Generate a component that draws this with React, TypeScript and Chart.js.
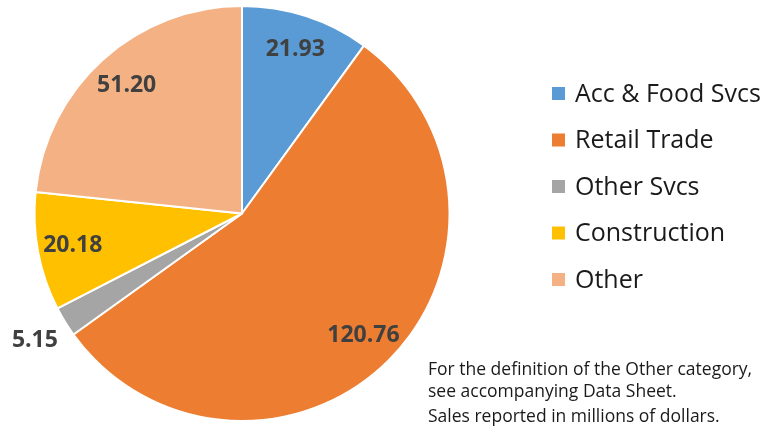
import React, { useEffect, useRef } from "react";
import { Chart, registerables } from "chart.js";

Chart.register(...registerables);

const categories = ["Acc & Food Svcs", "Retail Trade", "Other Svcs", "Construction", "Other"];
const salesValues = [21.93, 120.76, 5.15, 20.18, 51.2];
const sliceColors = ["#5B9BD5", "#ED7D31", "#A5A5A5", "#FFC000", "#F4B183"];
const noteLines = [
  "For the definition of the Other category,",
  "see accompanying Data Sheet.",
];
const unitNote = "Sales reported in millions of dollars.";

const FONT = '"Open Sans", "Noto Sans", sans-serif';

const sliceLabelsPlugin = {
  id: "sliceLabels",
  afterDatasetsDraw(chart: any) {
    const { ctx } = chart;
    const meta = chart.getDatasetMeta(0);
    const data = chart.data.datasets[0].data as number[];
    const total = data.reduce((a, b) => a + b, 0);
    ctx.save();
    ctx.font = `bold 23px ${FONT}`;
    ctx.fillStyle = "#404040";
    ctx.textAlign = "center";
    ctx.textBaseline = "middle";
    meta.data.forEach((arc: any, i: number) => {
      const p = arc.getProps(["x", "y", "startAngle", "endAngle", "outerRadius"], true);
      const mid = (p.startAngle + p.endAngle) / 2;
      const small = data[i] / total < 0.05;
      const r = p.outerRadius * (small ? 1.17 : 0.83);
      ctx.fillText(data[i].toFixed(2), p.x + Math.cos(mid) * r, p.y + Math.sin(mid) * r);
    });
    ctx.restore();
  },
};

const sideLegendPlugin = {
  id: "sideLegend",
  afterDraw(chart: any) {
    const { ctx } = chart;
    const labels = chart.data.labels as string[];
    const colors = chart.data.datasets[0].backgroundColor as string[];
    ctx.save();
    ctx.textBaseline = "middle";
    ctx.textAlign = "left";
    ctx.font = `25px ${FONT}`;
    labels.forEach((lab, i) => {
      const y = 93.5 + i * 46.5;
      ctx.fillStyle = colors[i];
      ctx.fillRect(552, y - 6.5, 13, 13);
      ctx.fillStyle = "#1a1a1a";
      ctx.fillText(lab, 575, y + 1);
    });
    ctx.font = `17.5px ${FONT}`;
    ctx.textBaseline = "alphabetic";
    ctx.fillStyle = "#1a1a1a";
    noteLines.forEach((line, i) => {
      ctx.fillText(line, 428, 375 + i * 22);
    });
    ctx.fillText(unitNote, 428, 422);
    ctx.restore();
  },
};

export default function App() {
  const canvasRef = useRef<HTMLCanvasElement | null>(null);

  useEffect(() => {
    if (!canvasRef.current) return;
    const chart = new Chart(canvasRef.current, {
      type: "pie",
      data: {
        labels: categories,
        datasets: [
          {
            data: salesValues,
            backgroundColor: sliceColors,
            borderColor: "#ffffff",
            borderWidth: 2,
          },
        ],
      },
      options: {
        responsive: false,
        animation: false,
        layout: { padding: { left: 33, right: 781 - 451, top: 5, bottom: 17 } },
        plugins: {
          legend: { display: false },
          tooltip: { enabled: false },
        },
      },
      plugins: [sliceLabelsPlugin, sideLegendPlugin],
    });
    return () => chart.destroy();
  }, []);

  return (
    <div style={{ position: "fixed", left: 0, top: 0, width: 781, height: 439, background: "#ffffff" }}>
      <canvas ref={canvasRef} width={781} height={439} />
    </div>
  );
}
